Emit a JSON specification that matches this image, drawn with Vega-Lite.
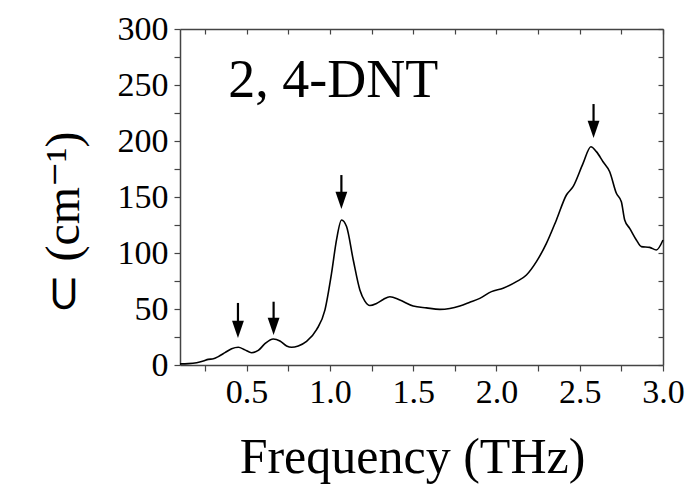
{
  "$schema": "https://vega.github.io/schema/vega-lite/v6.json",
  "width": 483,
  "height": 336,
  "autosize": {"type": "none"},
  "padding": {"left": 180, "top": 29, "right": 26, "bottom": 119},
  "background": "white",
  "config": {
    "font": "Liberation Serif",
    "view": {"stroke": null},
    "axis": {"grid": false, "domainColor": "#444", "tickColor": "#444", "domainWidth": 1.5, "tickWidth": 1.2, "labelColor": "black", "titleColor": "black", "labelFont": "Liberation Serif", "titleFont": "Liberation Serif", "titleFontWeight": "normal"}
  },
  "datasets": {
    "curve": [
      {"f": 0.10, "v": 1.0}, {"f": 0.15, "v": 1.2}, {"f": 0.20, "v": 2.0}, {"f": 0.24, "v": 3.5},
      {"f": 0.27, "v": 5.0}, {"f": 0.30, "v": 5.5}, {"f": 0.33, "v": 7.5}, {"f": 0.37, "v": 11.0},
      {"f": 0.41, "v": 14.5}, {"f": 0.45, "v": 15.8}, {"f": 0.49, "v": 13.5}, {"f": 0.53, "v": 11.0},
      {"f": 0.57, "v": 13.0}, {"f": 0.61, "v": 19.0}, {"f": 0.66, "v": 23.2}, {"f": 0.70, "v": 21.5},
      {"f": 0.74, "v": 17.0}, {"f": 0.77, "v": 15.8}, {"f": 0.81, "v": 17.0}, {"f": 0.86, "v": 21.0},
      {"f": 0.92, "v": 31.5}, {"f": 0.97, "v": 49.0}, {"f": 1.01, "v": 82.0}, {"f": 1.04, "v": 112.0},
      {"f": 1.07, "v": 129.5}, {"f": 1.10, "v": 123.6}, {"f": 1.14, "v": 94.0}, {"f": 1.18, "v": 67.0},
      {"f": 1.21, "v": 57.0}, {"f": 1.24, "v": 53.1}, {"f": 1.28, "v": 55.0}, {"f": 1.32, "v": 58.5},
      {"f": 1.36, "v": 61.0}, {"f": 1.42, "v": 58.0}, {"f": 1.50, "v": 52.7}, {"f": 1.58, "v": 51.0},
      {"f": 1.66, "v": 49.7}, {"f": 1.72, "v": 50.5}, {"f": 1.78, "v": 52.7}, {"f": 1.84, "v": 56.0},
      {"f": 1.90, "v": 59.5}, {"f": 1.97, "v": 65.5}, {"f": 2.04, "v": 68.5}, {"f": 2.12, "v": 74.4},
      {"f": 2.18, "v": 80.4}, {"f": 2.24, "v": 92.3}, {"f": 2.30, "v": 108.6}, {"f": 2.36, "v": 129.5},
      {"f": 2.42, "v": 151.8}, {"f": 2.46, "v": 159.2}, {"f": 2.52, "v": 180.0}, {"f": 2.567, "v": 194.9},
      {"f": 2.60, "v": 190.5}, {"f": 2.64, "v": 181.5}, {"f": 2.68, "v": 172.6}, {"f": 2.72, "v": 153.3},
      {"f": 2.75, "v": 145.8}, {"f": 2.77, "v": 129.5}, {"f": 2.80, "v": 122.0}, {"f": 2.84, "v": 111.6},
      {"f": 2.87, "v": 105.7}, {"f": 2.92, "v": 105.0}, {"f": 2.96, "v": 102.7}, {"f": 3.00, "v": 111.6}
    ],
    "arrows": [
      {"f": 0.448, "top": 55.4, "tip": 24.1, "stem": 33.0},
      {"f": 0.662, "top": 56.5, "tip": 26.8, "stem": 36.0},
      {"f": 1.069, "top": 169.6, "tip": 139.3, "stem": 148.0},
      {"f": 2.583, "top": 233.0, "tip": 202.7, "stem": 212.0}
    ],
    "label": [{"f": 0.39, "v": 239, "text": "2, 4-DNT"}]
  },
  "resolve": {"axis": {"x": "independent", "y": "independent"}},
  "layer": [
    {
      "data": {"name": "curve"},
      "mark": {"type": "line", "color": "black", "strokeWidth": 1.6, "interpolate": "monotone"},
      "encoding": {
        "x": {"field": "f", "type": "quantitative",
          "scale": {"domain": [0.1, 3.0], "nice": false, "zero": false},
          "axis": {"orient": "bottom", "values": [0.25, 0.5, 0.75, 1.0, 1.25, 1.5, 1.75, 2.0, 2.25, 2.5, 2.75, 3.0],
            "labelExpr": "(datum.value * 2) % 1 == 0 ? format(datum.value, '.1f') : ''",
            "tickSize": 6, "labelFont": "Liberation Serif", "labelFontSize": 34, "labelPadding": 4, "labelFlush": false, "labelOverlap": false,
            "title": "Frequency (THz)", "titleFont": "Liberation Serif", "titleFontSize": 50, "titleX": 232, "titleY": 107, "titleBaseline": "alphabetic", "titleAnchor": null}},
        "y": {"field": "v", "type": "quantitative",
          "scale": {"domain": [0, 300], "nice": false},
          "axis": {"orient": "left", "values": [0, 25, 50, 75, 100, 125, 150, 175, 200, 225, 250, 275, 300],
            "labelExpr": "datum.value % 50 == 0 ? datum.label : ''",
            "tickSize": 6, "labelFont": "Liberation Serif", "labelFontSize": 34, "labelPadding": 6, "labelFlush": false, "labelOverlap": false, "labelBaseline": "middle",
            "title": "⊂ (cm⁻¹)", "titleFont": "Liberation Serif", "titleFontSize": 48, "titleAngle": -90, "titleX": -102, "titleY": 193, "titleBaseline": "alphabetic", "titleAlign": "center"}}
      }
    },
    {
      "data": {"name": "curve"},
      "mark": {"type": "line", "opacity": 0},
      "encoding": {
        "x": {"field": "f", "type": "quantitative",
          "scale": {"domain": [0.1, 3.0], "nice": false, "zero": false},
          "axis": {"orient": "top", "values": [0.25, 0.5, 0.75, 1.0, 1.25, 1.5, 1.75, 2.0, 2.25, 2.5, 2.75, 3.0], "labels": false, "tickSize": -5, "title": null}},
        "y": {"field": "v", "type": "quantitative",
          "scale": {"domain": [0, 300], "nice": false},
          "axis": {"orient": "right", "values": [0, 25, 50, 75, 100, 125, 150, 175, 200, 225, 250, 275, 300], "labels": false, "tickSize": -5, "title": null}}
      }
    },
    {
      "data": {"name": "arrows"},
      "mark": {"type": "rule", "color": "black", "strokeWidth": 2.2},
      "encoding": {
        "x": {"field": "f", "type": "quantitative", "axis": null},
        "y": {"field": "top", "type": "quantitative", "axis": null},
        "y2": {"field": "stem"}
      }
    },
    {
      "data": {"name": "arrows"},
      "mark": {"type": "point", "shape": "M -0.5 -1.45 L 0.5 -1.45 L 0 0 Z", "filled": true, "color": "black", "opacity": 1, "size": 560, "strokeWidth": 0},
      "encoding": {
        "x": {"field": "f", "type": "quantitative", "axis": null},
        "y": {"field": "tip", "type": "quantitative", "axis": null}
      }
    },
    {
      "data": {"name": "label"},
      "mark": {"type": "text", "align": "left", "baseline": "alphabetic", "fontSize": 54, "font": "Liberation Serif", "color": "black"},
      "encoding": {
        "x": {"field": "f", "type": "quantitative", "axis": null},
        "y": {"field": "v", "type": "quantitative", "axis": null},
        "text": {"field": "text"}
      }
    }
  ]
}
